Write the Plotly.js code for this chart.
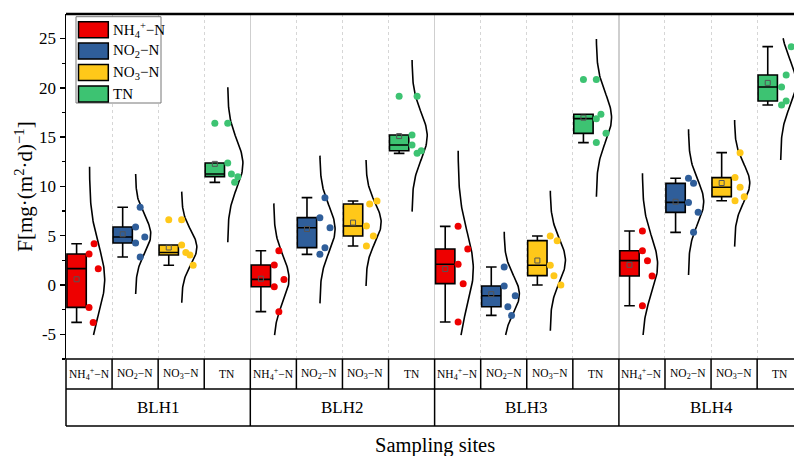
<!DOCTYPE html>
<html><head><meta charset="utf-8">
<script src="https://cdn.plot.ly/plotly-3.0.1.min.js"></script>
<style>html,body{margin:0;padding:0;background:#fff}#chart{width:794px;height:456px}</style>
</head><body><div id="chart"></div>
<script>
// ---------------- data ----------------
const sites = ["BLH1", "BLH2", "BLH3", "BLH4"];
const species = ["NH<sub>4</sub><sup>+</sup>−N", "NO<sub>2</sub>−N", "NO<sub>3</sub>−N", "TN"];
// samples per site (BLH1..BLH4)
const nh4 = [[4.19, 3.14, 1.66, -2.27, -3.79], [3.48, 2.03, 0.57, -0.17, -2.70], [5.95, 3.65, 2.10, 0.14, -3.75], [5.48, 3.48, 2.47, 0.91, -2.10]];
const no2 = [[7.88, 5.88, 4.87, 4.26, 2.84], [8.86, 6.83, 5.81, 3.79, 3.11], [1.83, -0.10, -1.08, -2.20, -3.08], [10.82, 10.31, 8.38, 7.37, 5.34]];
const no3 = [[6.63, 4.06, 3.30, 3.04, 2.00], [8.52, 8.22, 5.98, 4.97, 3.96], [4.97, 4.50, 2.00, 0.95, 0.00], [13.42, 10.89, 9.91, 8.96, 8.55]];
const tn = [[16.40, 12.37, 11.26, 10.99, 10.41], [19.13, 15.21, 14.20, 13.62, 13.35], [20.83, 17.31, 16.87, 15.38, 14.44], [24.17, 21.30, 20.08, 18.66, 18.26]];
// extent of the fitted normal curves (low / high) per site
const nh4CurveLo = [-5.07, -5.07, -5.07, -5.07];
const nh4CurveHi = [12.0, 8.28, 13.62, 11.33];
const no2CurveLo = [-0.91, -1.86, -5.07, 1.01];
const no2CurveHi = [11.26, 13.12, 5.41, 15.79];
const no3CurveLo = [-1.79, -0.10, -4.63, 3.89];
const no3CurveHi = [9.47, 12.68, 9.57, 16.73];
const tnCurveLo = [4.33, 7.44, 8.96, 12.68];
const tnCurveHi = [20.05, 22.82, 24.95, 25.02];
const yTickVals = [-5, 0, 5, 10, 15, 20, 25];
const yTickText = ["-5", "0", "5", "10", "15", "20", "25"];

// ---------------- layout helpers (positions / styles) ----------------
const SERIES = [nh4, no2, no3, tn];
const CURVE_LO = [nh4CurveLo, no2CurveLo, no3CurveLo, tnCurveLo];
const CURVE_HI = [nh4CurveHi, no2CurveHi, no3CurveHi, tnCurveHi];
const COLORS = ['#EE0000', '#2F5E9A', '#FFC819', '#3DC372'];
// horizontal placement of the dots inside a category slot (fraction of slot)
const JITTER = [
  [[0.61, 0.50, 0.70, 0.50, 0.59], [0.62, 0.52, 0.73, 0.52, 0.62], [0.51, 0.72, 0.51, 0.62, 0.51], [0.51, 0.51, 0.62, 0.72, 0.51]],
  [[0.61, 0.51, 0.71, 0.51, 0.61], [0.62, 0.51, 0.73, 0.62, 0.51], [0.51, 0.51, 0.75, 0.59, 0.67], [0.51, 0.62, 0.51, 0.72, 0.62]],
  [[0.51, 0.51, 0.60, 0.69, 0.76], [0.75, 0.59, 0.52, 0.67, 0.52], [0.51, 0.66, 0.51, 0.59, 0.74], [0.63, 0.52, 0.63, 0.72, 0.52]],
  [[0.51, 0.51, 0.59, 0.73, 0.66], [0.62, 0.51, 0.51, 0.71, 0.62], [0.51, 0.61, 0.51, 0.72, 0.51], [0.74, 0.63, 0.53, 0.63, 0.53]]
];
const BOX_OFF = 0.23, BOX_W = 0.42, CURVE_BASE = 0.51, CURVE_AMP = 0.33;
const X_RANGE = [0, 15.8], Y_RANGE = [-7.5, 27.48];
const FONT = 'Liberation Serif, Times New Roman, serif';
const W = 794, H = 456, ML = 66, MT = 14, MB = 97, MR = 0;
const PLOT_W = W - ML - MR, PLOT_H = H - MT - MB;
const xp = px => (px - ML) / PLOT_W;         // page px -> paper x
const yp = py => (H - MB - py) / PLOT_H;     // page py -> paper y
const xd = v => (v - X_RANGE[0]) / (X_RANGE[1] - X_RANGE[0]); // data x -> paper x
const slot = (s, k) => s * 4 + k;

const mean = a => a.reduce((p, c) => p + c, 0) / a.length;
const sd = a => { const m = mean(a); return Math.sqrt(a.reduce((p, c) => p + (c - m) * (c - m), 0) / (a.length - 1)); };

const traces = [];
// normal curves
SERIES.forEach((ser, k) => {
  const xs = [], ys = [];
  ser.forEach((vals, s) => {
    const m = mean(vals), d = sd(vals), lo = CURVE_LO[k][s], hi = CURVE_HI[k][s];
    const n = 90;
    for (let i = 0; i <= n; i++) {
      const y = lo + (hi - lo) * i / n;
      xs.push(slot(s, k) + CURVE_BASE + CURVE_AMP * Math.exp(-(y - m) * (y - m) / (2 * d * d)));
      ys.push(y);
    }
    xs.push(null); ys.push(null);
  });
  traces.push({type: 'scatter', mode: 'lines', x: xs, y: ys, line: {color: '#000', width: 1.6},
    showlegend: false, hoverinfo: 'skip', cliponaxis: true});
});
// boxes
SERIES.forEach((ser, k) => {
  const xs = [], ys = [];
  ser.forEach((vals, s) => vals.forEach(v => { xs.push(slot(s, k) + BOX_OFF); ys.push(v); }));
  traces.push({type: 'box', x: xs, y: ys, width: BOX_W, boxpoints: 'outliers', pointpos: 0, jitter: 0,
    marker: {color: COLORS[k], size: 7, line: {width: 0}}, fillcolor: COLORS[k],
    line: {color: '#000', width: 1.6}, whiskerwidth: 0.55, boxmean: false, quartilemethod: 'inclusive',
    showlegend: false, hoverinfo: 'skip'});
});
// scattered data points
SERIES.forEach((ser, k) => {
  const xs = [], ys = [];
  ser.forEach((vals, s) => vals.forEach((v, i) => { xs.push(slot(s, k) + JITTER[k][s][i]); ys.push(v); }));
  traces.push({type: 'scatter', mode: 'markers', x: xs, y: ys,
    marker: {color: COLORS[k], size: 7, line: {width: 0}}, showlegend: false, hoverinfo: 'skip'});
});
// mean squares
SERIES.forEach((ser, k) => {
  traces.push({type: 'scatter', mode: 'markers', x: ser.map((v, s) => slot(s, k) + BOX_OFF), y: ser.map(mean),
    marker: {symbol: 'square-open', color: '#555', size: 5, line: {width: 1, color: '#555'}},
    showlegend: false, hoverinfo: 'skip'});
});

// ---------------- shapes & annotations ----------------
const shapes = [];
const annotations = [];
const blk = {color: '#000', width: 1.5};
// top border
shapes.push({type: 'line', xref: 'paper', yref: 'paper', x0: 0, x1: 1, y0: 1, y1: 1, line: {color: '#000', width: 2.5}});
// table horizontals
[359, 389, 426].forEach(py => shapes.push({type: 'line', xref: 'paper', yref: 'paper', x0: 0, x1: 1, y0: yp(py), y1: yp(py), line: blk}));
// table row 1 verticals
for (let b = 0; b <= 16; b++) {
  if (xd(b) > 1) continue;
  shapes.push({type: 'line', xref: 'paper', yref: 'paper', x0: xd(b), x1: xd(b), y0: yp(359), y1: yp(389), line: blk});
}
// table row 2 verticals
[0, 4, 8, 12].forEach(b => shapes.push({type: 'line', xref: 'paper', yref: 'paper', x0: xd(b), x1: xd(b), y0: yp(389), y1: yp(426), line: blk}));
// row labels
sites.forEach((site, s) => {
  species.forEach((sp, k) => annotations.push({xref: 'x', yref: 'paper', x: slot(s, k) + 0.5, y: yp(374), text: sp,
    showarrow: false, xanchor: 'center', yanchor: 'middle', font: {family: FONT, size: 11.5, color: '#000'}}));
  annotations.push({xref: 'x', yref: 'paper', x: s * 4 + 2, y: yp(407.5), text: site, showarrow: false,
    xanchor: 'center', yanchor: 'middle', font: {family: FONT, size: 17, color: '#000'}});
});
annotations.push({xref: 'x', yref: 'paper', x: 8, y: yp(445.5), text: 'Sampling sites', showarrow: false,
  xanchor: 'center', yanchor: 'middle', font: {family: FONT, size: 20.5, color: '#000'}});
// legend
shapes.push({type: 'rect', xref: 'paper', yref: 'paper', x0: xp(76), x1: xp(161), y0: yp(103), y1: yp(16.7),
  line: {color: '#777', width: 1}, fillcolor: '#fff', layer: 'above'});
species.forEach((sp, k) => {
  const top = 21.7 + k * 21.4;
  shapes.push({type: 'rect', xref: 'paper', yref: 'paper', x0: xp(78.5), x1: xp(108.3), y0: yp(top + 16), y1: yp(top),
    line: {color: '#000', width: 1.5}, fillcolor: COLORS[k], layer: 'above'});
  annotations.push({xref: 'paper', yref: 'paper', x: xp(111), y: yp(top + 8), text: sp, showarrow: false,
    xanchor: 'left', yanchor: 'middle', font: {family: FONT, size: 15, color: '#000'}});
});

const layout = {
  width: W, height: H,
  margin: {l: ML, r: MR, t: MT, b: MB, pad: 0},
  paper_bgcolor: '#fff', plot_bgcolor: '#fff',
  font: {family: FONT, color: '#000'},
  showlegend: false,
  boxmode: 'overlay',
  xaxis: {range: X_RANGE, showticklabels: false, ticks: '', zeroline: false, showline: false,
    showgrid: true, tick0: 0, dtick: 4, gridcolor: '#cfcfcf', gridwidth: 1.3,
    minor: {tick0: 0, dtick: 1, showgrid: true, gridcolor: '#d6d6d6', gridwidth: 1, griddash: 'dot', ticks: ''}},
  yaxis: {range: Y_RANGE, zeroline: false, showgrid: false, showline: true, linecolor: '#000', linewidth: 1.5,
    ticks: 'outside', ticklen: 5, tickwidth: 1.5, tickcolor: '#000',
    tickmode: 'array', tickvals: yTickVals, ticktext: yTickText,
    tickfont: {family: FONT, size: 17, color: '#000'},
    minor: {tick0: 0, dtick: 2.5, ticks: 'outside', ticklen: 3, tickwidth: 1.2, tickcolor: '#000'},
    title: {text: 'F[mg·(m<sup>2</sup>·d)<sup>−1</sup>]', font: {family: FONT, size: 21, color: '#000'}, standoff: 0}},
  shapes: shapes,
  annotations: annotations
};

Plotly.newPlot('chart', traces, layout, {staticPlot: true, displayModeBar: false});
</script>
</body></html>
